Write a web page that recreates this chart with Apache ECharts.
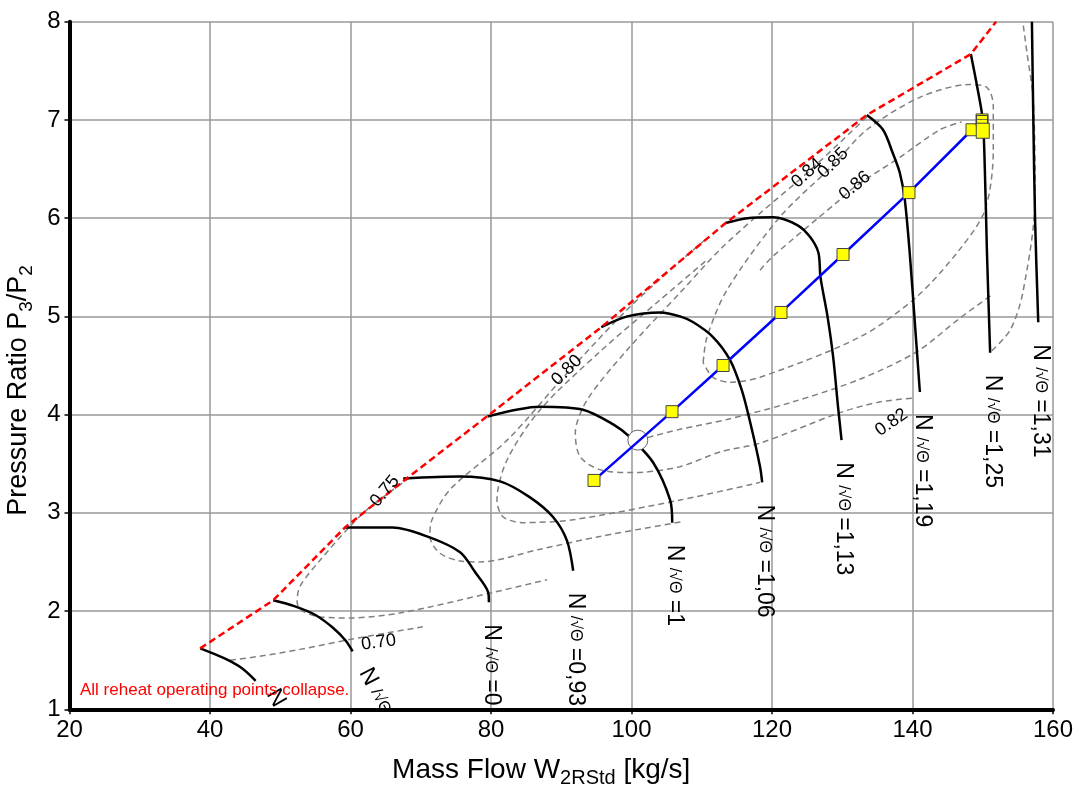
<!DOCTYPE html>
<html><head><meta charset="utf-8">
<script src="https://cdn.jsdelivr.net/npm/echarts@6/dist/echarts.min.js"></script>
<style>html,body{margin:0;padding:0;background:#fff}#c{width:1079px;height:792px}</style>
</head><body><div id="c"></div>
<script>
// ---- data (x = mass flow kg/s, y = pressure ratio) ----
const xTicks = [20, 40, 60, 80, 100, 120, 140, 160];
const yTicks = [1, 2, 3, 4, 5, 6, 7, 8];

const speedNames = ['0,8', '0,86', '0', '0,93', '1', '1,06', '1,13', '1,19', '1,25', '1,31'];
const speed1 = [[38.6,1.62],[42.0,1.52],[44.5,1.42],[46.5,1.29]];
const speed2 = [[49.0,2.11],[52.0,2.05],[55.0,1.96],[57.5,1.83],[59.3,1.70],[60.3,1.59]];
const speed3 = [[59.2,2.85],[66.0,2.85],[70.9,2.76],[75.6,2.60],[77.7,2.40],[79.6,2.19],[79.7,2.09]];
const speed4 = [[67.5,3.35],[75.6,3.37],[81.3,3.32],[85.5,3.16],[88.8,2.96],[90.8,2.72],[91.7,2.41]];
const speed5 = [[79.5,3.98],[87.0,4.08],[93.1,4.05],[97.4,3.90],[99.8,3.77],[103.1,3.51],[105.5,3.13],[105.8,2.90]];
const speed6 = [[95.7,4.89],[99.4,5.00],[104.1,5.04],[106.9,5.00],[108.8,4.94],[111.6,4.79],[114.0,4.56],[115.7,4.25],[116.9,3.92],[118.3,3.47],[118.6,3.31]];
const speed7 = [[113.4,5.95],[116.5,6.00],[120.2,6.01],[123.6,5.93],[125.4,5.81],[126.6,5.65],[126.9,5.40],[127.9,5.00],[128.7,4.59],[129.4,4.08],[129.9,3.74]];
const speed8 = [[133.5,7.05],[135.8,6.90],[137.2,6.66],[138.2,6.46],[138.9,6.19],[139.6,5.65],[140.3,4.97],[141.05,4.23]];
const speed9 = [[148.3,7.67],[149.2,7.34],[150.0,7.00],[150.3,6.49],[150.6,5.65],[151.05,4.63]];
const speed10 = [[157.0,8.00],[157.2,7.00],[157.45,5.98],[157.9,4.94]];

const surge = [[38.6,1.62],[49.0,2.11],[59.2,2.85],[68.0,3.35],[79.4,3.98],[95.7,4.89],[113.4,5.95],[133.5,7.05],[148.3,7.67],[151.9,8.0]];

const effNames = ['0.70','0.75','0.80','0.82','0.84','0.85','0.86'];
const eff070 = [[42.85,1.50],[47.1,1.54],[52.8,1.61],[59.9,1.71],[70.3,1.84]];
const eff075 = [[68.5,3.36],[62.8,3.06],[59.9,2.86],[55.7,2.52],[52.8,2.25],[52.4,2.09],[53.2,2.00],[55.7,1.94],[59.9,1.93],[67.0,1.98],[80.3,2.19],[88.0,2.32]];
const eff080 = [[110.5,5.78],[106.9,5.56],[99.4,5.07],[90.8,4.42],[82.3,3.74],[74.2,3.24],[71.6,2.93],[71.3,2.76],[72.7,2.59],[75.6,2.51],[78.4,2.50],[87.0,2.63],[95.5,2.76],[107.2,2.91]];
const eff082 = [[110.5,5.56],[104.1,5.17],[95.5,4.64],[87.0,4.05],[82.3,3.54],[80.85,3.13],[81.7,2.96],[84.55,2.90],[91.7,2.93],[106.9,3.13],[118.3,3.31]];
const eff084 = [[133.5,7.03],[125.0,6.46],[118.3,6.05],[112.6,5.68],[106.9,5.24],[99.4,4.66],[93.7,4.15],[92.0,3.81],[92.7,3.57],[95.5,3.44],[100.2,3.41],[106.9,3.47],[112.6,3.62],[118.3,3.71],[129.7,4.02],[135.4,4.13],[140.4,4.17]];
const eff085 = [[110.2,4.53],[110.75,4.79],[113.6,5.27],[121.1,6.01],[128.7,6.54],[133.5,6.90],[141.05,7.23],[148.1,7.36],[150.6,7.33],[151.5,7.15],[151.5,6.69],[150.3,6.08],[146.7,5.68],[140.6,5.20],[132.5,4.79],[118.3,4.38],[114.0,4.33],[111.6,4.38],[110.2,4.53]];
const eff086 = [[118.3,5.47],[120.1,5.61],[129.7,6.19],[131.8,6.32],[138.2,6.62],[143.9,6.90],[147.0,6.98]];
const effInner = [[100.9,3.74],[106.9,3.85],[113.6,3.95],[123.0,4.13],[132.5,4.36],[140.6,4.64],[146.7,4.98],[151.3,5.22]];
const effRight = [[151.3,4.65],[153.9,4.86],[155.7,5.24],[157.45,6.21],[157.2,7.20],[156.3,7.68],[155.7,8.0]];

const opLine = [[94.66,3.33],[105.77,4.03],[113.03,4.50],[121.28,5.04],[130.11,5.63],[139.5,6.26],[148.47,6.90],[149.9,7.0]];
const opCluster = [[149.9,7.0],[149.9,6.96],[150.0,6.89]];
const designPoint = [[100.9,3.74]];

// efficiency label anchors: [x, y, name index, rotation deg]
const effLabels = [[64.0,1.68,0,8],[64.9,3.22,1,50],[90.8,4.45,2,45],[137.0,3.92,3,35],[125.0,6.46,4,42],[128.7,6.56,5,45],[131.8,6.33,6,40]];

const note = 'All reheat operating points collapse.';

// ---- chart ----
const chart = echarts.init(document.getElementById('c'));
const speeds = [speed1,speed2,speed3,speed4,speed5,speed6,speed7,speed8,speed9,speed10];
const effs = [eff070,eff075,eff080,eff082,eff084,eff085,eff086,effInner,effRight];

const series = [];
effs.forEach(d => series.push({type:'line', data:d, smooth:0.3, symbol:'none', silent:true,
  lineStyle:{color:'#808080', width:1.5, type:[6,4]}, z:2}));
speeds.forEach(d => series.push({type:'line', data:d, smooth:0.3, symbol:'none', silent:true,
  lineStyle:{color:'#000', width:2.5}, z:3}));
series.push({type:'line', data:surge, symbol:'none', silent:true, lineStyle:{color:'#ff0000', width:2.5, type:[7,4]}, z:4});
series.push({type:'scatter', data:designPoint, symbol:'circle', symbolSize:20, silent:true,
  itemStyle:{color:'#ffffff', borderColor:'#666', borderWidth:1, opacity:1}, z:4});
series.push({type:'line', data:opLine, symbol:'rect', symbolSize:12, showAllSymbol:true, silent:true,
  lineStyle:{color:'#0000ff', width:2.5}, itemStyle:{color:'#ffff00', borderColor:'#444', borderWidth:1}, z:5});
series.push({type:'scatter', data:opCluster, symbol:'rect', silent:true,
  symbolSize:(v, p) => p.dataIndex === 2 ? [13,15] : [11,9],
  itemStyle:{color:'#ffff00', borderColor:'#444', borderWidth:1, opacity:1}, z:6});

// speed line labels below each line's end (clipped by the plot area)
series.push({type:'custom', clip:true, z:8, silent:true,
  data: speeds.map((s,i) => [s[s.length-1][0], s[s.length-1][1], i]),
  renderItem: function(params, api){
    const p = api.coord([api.value(0), api.value(1)]);
    const i = api.value(2);
    let dx = 2, dy = 22, rot = -Math.PI/2;
    if (i === 0) { dx = 16; dy = 10; rot = -1.05; }
    if (i === 1) { dx = 12; dy = 18; rot = -1.1; }
    const txt = '{n|N }{s|/√Θ}{n| =' + speedNames[i] + '}';
    return {type:'text', x:p[0]+dx, y:p[1]+dy, rotation:rot,
      style:{text:txt, align:'left', verticalAlign:'middle',
        rich:{n:{fontSize:23, fontFamily:'Liberation Sans', fill:'#000'}, s:{fontSize:16, fontFamily:'Liberation Sans', fill:'#000'}}}};
  }});
// efficiency labels
series.push({type:'custom', z:8, silent:true, data: effLabels,
  renderItem: function(params, api){
    const p = api.coord([api.value(0), api.value(1)]);
    return {type:'text', x:p[0], y:p[1], rotation: api.value(3)*Math.PI/180,
      style:{text: effNames[api.value(2)], align:'center', verticalAlign:'middle',
        fontSize:18, fontFamily:'Liberation Sans', fill:'#000'}};
  }});

chart.setOption({
  animation:false,
  grid:{left:69.5, right:26, top:21.7, bottom:82.7, show:false, outerBoundsMode:'none', containLabel:false},
  xAxis:{type:'value', min:20, max:160, interval:20,
    name:'{t|Mass Flow W}{sub|2RStd}{t| [kg/s]}', nameLocation:'middle', nameGap:43,
    nameTextStyle:{padding:[0,40,0,0], rich:{t:{fontSize:28, fontFamily:'Liberation Sans', color:'#000'}, sub:{fontSize:20, fontFamily:'Liberation Sans', color:'#000', padding:[16,0,0,0]}}},
    axisLine:{lineStyle:{color:'#000', width:4}},
    axisTick:{length:5, lineStyle:{color:'#000', width:1.5}},
    axisLabel:{fontSize:24, fontFamily:'Liberation Sans', color:'#000', margin:9},
    splitLine:{lineStyle:{color:'#999', width:1.5}}},
  yAxis:{type:'value', min:1, max:8, interval:1,
    name:'{t|Pressure Ratio P}{sub|3}{t|/P}{sub|2}', nameLocation:'middle', nameGap:19, nameRotate:90,
    nameTextStyle:{padding:[0,50,0,0], rich:{t:{fontSize:27, fontFamily:'Liberation Sans', color:'#000'}, sub:{fontSize:19, fontFamily:'Liberation Sans', color:'#000', padding:[16,0,0,0]}}},
    axisLine:{show:true, lineStyle:{color:'#000', width:4}},
    axisTick:{show:true, length:5, lineStyle:{color:'#000', width:1.5}},
    axisLabel:{fontSize:24, fontFamily:'Liberation Sans', color:'#000', margin:9},
    splitLine:{lineStyle:{color:'#999', width:1.5}}},
  graphic:[{type:'text', left:80, top:682, style:{text:note, fontSize:17, fontFamily:'Liberation Sans', fill:'#ff0000'}, z:10}],
  series: series
});
</script></body></html>
